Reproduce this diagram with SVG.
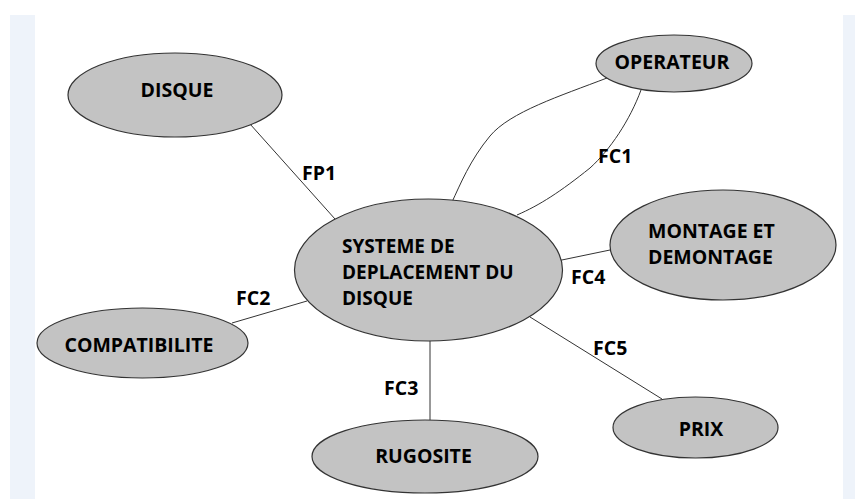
<svg xmlns="http://www.w3.org/2000/svg" width="855" height="499" viewBox="0 0 855 499">
<style>
.bg{fill:#eef3fa}
.node{fill:#c3c3c3;stroke:#333;stroke-width:1.2}
.t{font-family:"Open Sans","DejaVu Sans",sans-serif;font-weight:bold;font-size:19.5px;fill:#000}
.m{font-size:19px}
.c{text-anchor:middle}
.e{fill:none;stroke:#333;stroke-width:1}
</style>
<rect width="855" height="499" fill="#fff"/>
<rect class="bg" x="10" y="15" width="25" height="484"/>
<rect class="bg" x="843" y="15" width="12" height="484"/>
<g id="connectors">
<line class="e" x1="250" y1="124" x2="335" y2="219"/>
<path class="e" d="M607,78 C560,96 510,112 490,136 C470,160 460,185 452,202"/>
<path class="e" d="M641,90 C630,120 610,150 590,168 C560,192 540,205 517,215"/>
<line class="e" x1="557" y1="261" x2="610" y2="250"/>
<line class="e" x1="232" y1="323" x2="307" y2="301"/>
<line class="e" x1="430" y1="340" x2="430" y2="420"/>
<line class="e" x1="530" y1="317" x2="662" y2="399"/>
<text class="t" x="302" y="180">FP1</text>
<text class="t" x="598" y="163">FC1</text>
<text class="t" x="236" y="305">FC2</text>
<text class="t" x="384" y="395">FC3</text>
<text class="t" x="571" y="284">FC4</text>
<text class="t" x="593" y="355">FC5</text>
</g>
<g id="disque">
<ellipse class="node" cx="175" cy="95" rx="107" ry="42"/>
<text class="t c" x="177" y="97">DISQUE</text>
</g>
<g id="operateur">
<ellipse class="node" cx="674" cy="63.5" rx="78" ry="28.5"/>
<text class="t c" x="672" y="69">OPERATEUR</text>
</g>
<g id="systeme">
<ellipse class="node" cx="428.5" cy="270" rx="134" ry="71"/>
<text class="t m" x="342" y="253">SYSTEME DE</text>
<text class="t m" x="342" y="279">DEPLACEMENT DU</text>
<text class="t m" x="342" y="305">DISQUE</text>
</g>
<g id="montage">
<ellipse class="node" cx="723" cy="245" rx="113" ry="55"/>
<text class="t" x="648" y="238">MONTAGE ET</text>
<text class="t" x="648" y="264">DEMONTAGE</text>
</g>
<g id="compatibilite">
<ellipse class="node" cx="142.5" cy="343" rx="105.5" ry="35"/>
<text class="t c" x="139" y="352">COMPATIBILITE</text>
</g>
<g id="rugosite">
<ellipse class="node" cx="425" cy="456.5" rx="113" ry="36.5"/>
<text class="t c" x="423.5" y="463">RUGOSITE</text>
</g>
<g id="prix">
<ellipse class="node" cx="695.5" cy="427.5" rx="82.5" ry="30.5"/>
<text class="t c" x="701" y="436">PRIX</text>
</g>
</svg>
